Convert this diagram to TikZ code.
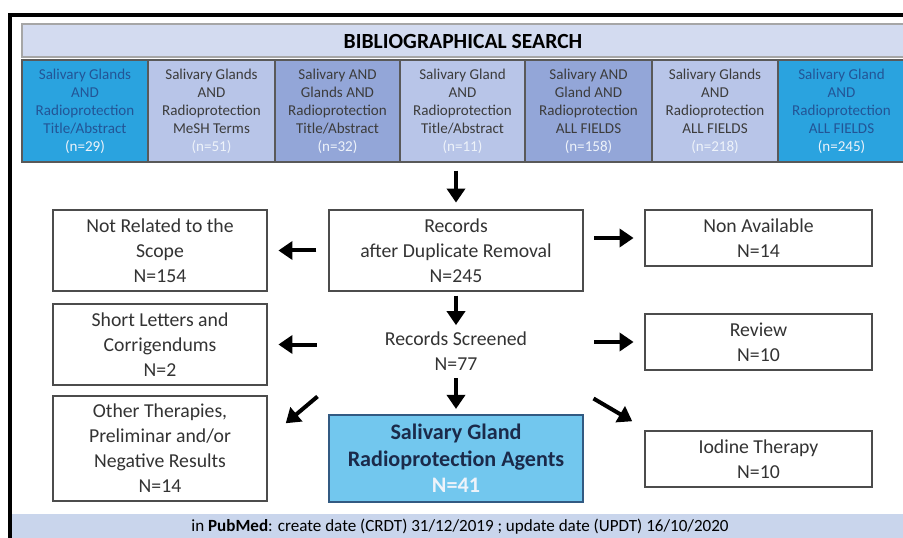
\documentclass[tikz,border=0pt]{standalone}
\usepackage{fontspec}
\setmainfont{Carlito}
\usetikzlibrary{arrows.meta,calc}

\definecolor{bandblue}{RGB}{211,219,240}
\definecolor{footblue}{RGB}{201,213,236}
\definecolor{cellbright}{RGB}{42,163,223}
\definecolor{celllight}{RGB}{184,197,232}
\definecolor{cellmid}{RGB}{147,166,216}
\definecolor{celltext}{RGB}{60,60,60}
\definecolor{brighttext}{RGB}{35,85,150}
\definecolor{ntext}{RGB}{238,243,250}
\definecolor{mainfill}{RGB}{114,199,238}
\definecolor{mainline}{RGB}{50,90,130}
\definecolor{navytext}{RGB}{27,42,74}

\tikzset{
  every picture/.style={line width=0.75pt},
  cell/.style={draw=gray!70!black, line width=0.8pt, inner sep=0pt, align=center,
    minimum height=76.5pt, text=celltext,
    font=\fontsize{11.3}{13.5}\selectfont},
  brightcell/.style={cell, fill=cellbright, text=brighttext},
  lightcell/.style={cell, fill=celllight},
  midcell/.style={cell, fill=cellmid},
  outbox/.style={draw=gray!60!black, line width=1.1pt, fill=white, inner sep=0pt,
    align=center, text=black!80, font=\fontsize{14.8}{18.8}\selectfont},
  flow/.style={line width=3pt, -{Triangle[length=10.5pt,width=13.5pt]}},
}

\begin{document}
\begin{tikzpicture}[x=0.75pt,y=0.75pt,yscale=-1,xscale=1]
	\useasboundingbox (0,0) rectangle (903,538);

	%Footer band
	\fill [footblue] (12,514) rectangle (905,540);
	\node (footer) at (460,527) {\fontsize{12.8}{14}\selectfont in \textbf{PubMed}: create date (CRDT) 31/12/2019 ; update date (UPDT) 16/10/2020};

	%Frame
	\draw [line width=3pt] (10,540) -- (10,15) -- (905,15) ;

	%Title band
	\draw [draw=gray!70, line width=0.8pt, fill=bandblue] (22,24) rectangle (905,57) ;
	\node (title) at (463,41) {\fontsize{16.2}{18}\selectfont\bfseries BIBLIOGRAPHICAL SEARCH};

	%Search strings
	\node [brightcell, minimum width=94.5pt] (s1) at (85,111) {Salivary Glands\\AND\\Radioprotection\\Title/Abstract\\\textcolor{ntext}{(n=29)}};
	\node [lightcell, minimum width=95.25pt] (s2) at (211.5,111) {Salivary Glands\\AND\\Radioprotection\\MeSH Terms\\\textcolor{ntext}{(n=51)}};
	\node [midcell, minimum width=93.75pt] (s3) at (337.5,111) {Salivary AND\\Glands AND\\Radioprotection\\Title/Abstract\\\textcolor{ntext}{(n=32)}};
	\node [lightcell, minimum width=93.75pt] (s4) at (462.5,111) {Salivary Gland\\AND\\Radioprotection\\Title/Abstract\\\textcolor{ntext}{(n=11)}};
	\node [midcell, minimum width=95.25pt] (s5) at (588.5,111) {Salivary AND\\Gland AND\\Radioprotection\\ALL FIELDS\\\textcolor{ntext}{(n=158)}};
	\node [lightcell, minimum width=94.5pt] (s6) at (715,111) {Salivary Glands\\AND\\Radioprotection\\ALL FIELDS\\\textcolor{ntext}{(n=218)}};
	\node [brightcell, minimum width=95.25pt] (s7) at (841.5,111) {Salivary Gland\\AND\\Radioprotection\\ALL FIELDS\\\textcolor{ntext}{(n=245)}};

	%Flow boxes
	\node [outbox, minimum width=190.5pt, minimum height=60.75pt] (records) at (456,250.5) {Records\\after Duplicate Removal\\N=245};
	\node [align=center, inner sep=0pt, minimum width=190.5pt, minimum height=36pt, text=black!80, font=\fontsize{14.8}{18.8}\selectfont] (screened) at (456,351) {Records Screened\\N=77};
	\node [outbox, fill=mainfill, draw=mainline, minimum width=190.5pt, minimum height=65.25pt, text=navytext, font=\fontsize{16.6}{20}\selectfont\bfseries] (agents) at (456,458.5) {Salivary Gland\\Radioprotection Agents\\\textcolor{ntext}{N=41}};

	\node [outbox, minimum width=160.5pt, minimum height=60.75pt] (notrel) at (160,250.5) {Not Related to the\\Scope\\N=154};
	\node [outbox, minimum width=160.5pt, minimum height=60.75pt] (letters) at (160,344.5) {Short Letters and\\Corrigendums\\N=2};
	\node [outbox, minimum width=160.5pt, minimum height=78.75pt] (other) at (160,448.5) {Other Therapies,\\Preliminar and/or\\Negative Results\\N=14};

	\node [outbox, minimum width=170.25pt, minimum height=42pt] (nonav) at (758.5,238) {Non Available\\N=14};
	\node [outbox, minimum width=170.25pt, minimum height=42pt] (review) at (758.5,342) {Review\\N=10};
	\node [outbox, minimum width=170.25pt, minimum height=42pt] (iodine) at (758.5,459) {Iodine Therapy\\N=10};

	%Arrows
	\draw [flow, shorten <=6pt, shorten >=5pt] (records.north |- s4.south) -- (records.north) ;
	\draw [flow, shorten <=3pt, shorten >=1pt] (records.south) -- (screened.north) ;
	\draw [flow, shorten <=2pt, shorten >=4pt] (screened.south) -- (agents.north) ;
	\draw [flow, shorten <=9pt, shorten >=8pt] (records.west) -- (notrel.east) ;
	\draw [flow, shorten <=8pt, shorten >=8pt] (records.east |- nonav.west) -- (nonav.west) ;
	\draw [flow, shorten <=9pt, shorten >=8pt] (screened.west |- letters.east) -- (letters.east) ;
	\draw [flow, shorten <=8pt, shorten >=8pt] (screened.east |- review.west) -- (review.west) ;
	\draw [flow] ($(screened.south west)+(-11,21)$) -- ($(other.north east)+(18,28)$) ;
	\draw [flow] ($(screened.south east)+(10,23)$) -- ($(iodine.north west)+(-12,-9)$) ;

\end{tikzpicture}
\end{document}
